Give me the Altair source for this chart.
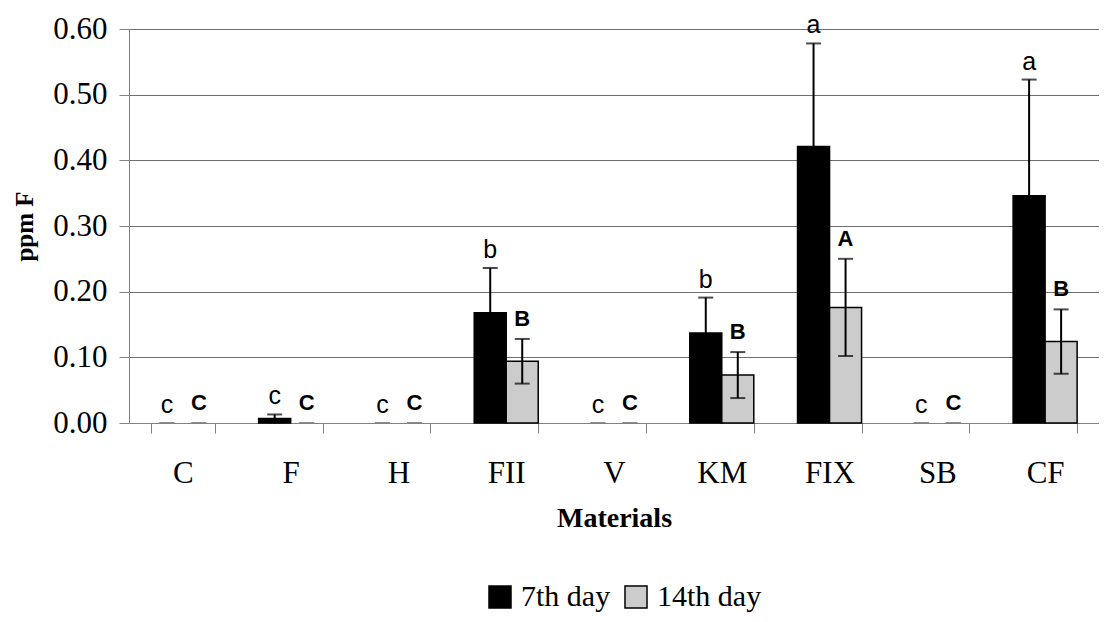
import altair as alt
import pandas as pd

materials = ["C", "F", "H", "FII", "V", "KM", "FIX", "SB", "CF"]
series = ["7th day", "14th day"]
day7 = [0.0, 0.007, 0.0, 0.168, 0.0, 0.137, 0.421, 0.0, 0.346]
day7_err = [0.0, 0.006, 0.0, 0.068, 0.0, 0.054, 0.157, 0.0, 0.177]
day14 = [0.0, 0.0, 0.0, 0.094, 0.0, 0.073, 0.176, 0.0, 0.124]
day14_err = [0.0, 0.0, 0.0, 0.034, 0.0, 0.035, 0.074, 0.0, 0.049]
letters7 = ["c", "c", "c", "b", "c", "b", "a", "c", "a"]
letters14 = ["C", "C", "C", "B", "C", "B", "A", "C", "B"]

rows = []
for i, m in enumerate(materials):
    rows.append(dict(material=m, series=series[0], value=day7[i], err=day7_err[i], letter=letters7[i]))
    rows.append(dict(material=m, series=series[1], value=day14[i], err=day14_err[i], letter=letters14[i]))
df = pd.DataFrame(rows)
df["lo"] = df["value"] - df["err"]
df["hi"] = df["value"] + df["err"]

W, H = 970, 394
pin = 0.406

x = alt.X("material:N", sort=materials,
          scale=alt.Scale(paddingInner=pin, paddingOuter=pin / 2),
          axis=alt.Axis(title="Materials", labelAngle=0, tickBand="extent",
                        labelFont="Liberation Serif", labelFontSize=31, labelColor="black",
                        labelPadding=25, tickSize=10, tickColor="#808080",
                        domainColor="#808080", titleFont="Liberation Serif",
                        titleFontSize=28, titleFontWeight="bold", titleColor="black",
                        titlePadding=16, grid=False))
xo = alt.XOffset("series:N", sort=series, scale=alt.Scale(paddingInner=0, paddingOuter=0))
yscale = alt.Scale(domain=[0, 0.6], nice=False)

base = alt.Chart(df)

bars = base.mark_bar(stroke="black").encode(
    x=x,
    xOffset=xo,
    y=alt.Y("value:Q", scale=yscale,
            axis=alt.Axis(title="ppm F", values=[0, 0.1, 0.2, 0.3, 0.4, 0.5, 0.6], format=".2f",
                          labelFont="Liberation Serif", labelFontSize=31, labelColor="black",
                          labelPadding=12, tickSize=10, tickColor="#808080",
                          domainColor="#808080", gridColor="#707070", gridWidth=1,
                          titleFont="Liberation Serif", titleFontSize=25,
                          titleFontWeight="bold", titleColor="black", titlePadding=15)),
    color=alt.Color("series:N", sort=series,
                    scale=alt.Scale(domain=series, range=["#000000", "#cccccc"]),
                    legend=alt.Legend(title=None, orient="none", direction="horizontal",
                                      legendX=356, legendY=553, symbolType="square",
                                      symbolSize=484, symbolStrokeColor="black",
                                      symbolStrokeWidth=1.5, labelFont="Liberation Serif",
                                      labelFontSize=30, labelColor="black", labelOffset=6,
                                      columnPadding=10, padding=0)),
    strokeWidth=alt.condition(alt.datum.value > 0, alt.value(1.5), alt.value(0)),
)

rules = base.mark_rule(color="black", strokeWidth=2).encode(
    x=x, xOffset=xo,
    y=alt.Y("lo:Q", scale=yscale), y2="hi:Q",
)

caps_hi = base.mark_tick(size=15, thickness=2).encode(
    x=x, xOffset=xo,
    y=alt.Y("hi:Q", scale=yscale),
    color=alt.condition(alt.datum.err > 0, alt.value("black"), alt.value("#808080")),
)
caps_lo = base.mark_tick(size=15, thickness=2).encode(
    x=x, xOffset=xo,
    y=alt.Y("lo:Q", scale=yscale),
    color=alt.condition(alt.datum.err > 0, alt.value("black"), alt.value("#808080")),
)

lower = base.transform_filter(alt.datum.series == series[0]).mark_text(
    font="Liberation Sans", fontSize=25, baseline="alphabetic", dy=-10, color="black"
).encode(x=x, xOffset=xo, y=alt.Y("hi:Q", scale=yscale), text="letter:N")

upper = base.transform_filter(alt.datum.series == series[1]).mark_text(
    font="Liberation Sans", fontSize=22, fontWeight="bold", baseline="alphabetic", dy=-13, color="black"
).encode(x=x, xOffset=xo, y=alt.Y("hi:Q", scale=yscale), text="letter:N")

chart = alt.layer(bars, rules, caps_hi, caps_lo, lower, upper).properties(
    width=W, height=H,
    autosize=alt.AutoSizeParams(type="none"),
    padding={"left": 121, "top": 21, "right": 0, "bottom": 190},
).configure_view(stroke=None).configure(background="white")

chart.save("out.html", embed_options={"renderer": "svg", "actions": False})
